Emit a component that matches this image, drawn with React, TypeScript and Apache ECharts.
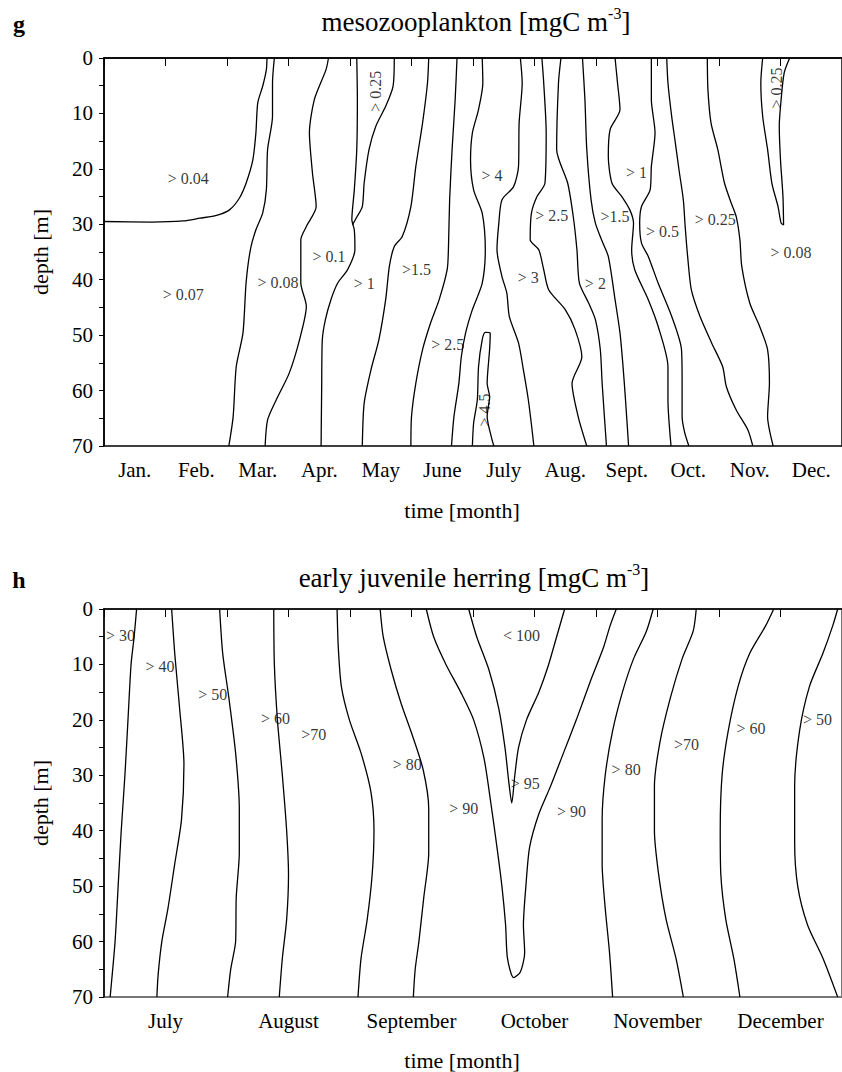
import React, { useEffect, useRef } from 'react';
import * as echarts from 'echarts';

// ---------- axis categories ----------
const topMonths = ['Jan.', 'Feb.', 'Mar.', 'Apr.', 'May', 'June', 'July', 'Aug.', 'Sept.', 'Oct.', 'Nov.', 'Dec.'];
const bottomMonthTicks = ['', 'July', '', 'August', '', 'September', '', 'October', '', 'November', '', 'December', ''];

// ---------- panel g: mesozooplankton contour lines [month, depth] ----------
const mesoA = [[0, 29.5], [0.77, 29.6], [1.29, 29.4], [1.56, 28.9], [1.83, 28.4], [2.04, 27.4], [2.2, 25.3], [2.31, 22.6], [2.42, 18.4], [2.47, 13.5], [2.5, 8.1], [2.58, 5.1], [2.64, 2.1], [2.65, 0]];
const mesoB = [[2.77, 0], [2.74, 4.5], [2.74, 10.5], [2.66, 16.5], [2.64, 23.8], [2.58, 28], [2.47, 31], [2.38, 34.6], [2.31, 40.6], [2.26, 49.6], [2.15, 55.7], [2.1, 64.7], [2.03, 70]];
const mesoC = [[3.65, 0], [3.61, 2.1], [3.42, 7.5], [3.34, 13.5], [3.39, 20.8], [3.45, 26.8], [3.29, 30.4], [3.2, 32.8], [3.2, 40.6], [3.29, 44.8], [3.18, 50.8], [3.01, 56.9], [2.8, 61.7], [2.66, 65.3], [2.62, 70]];
const mesoD1 = [[4.11, 0], [4.12, 7.5], [4.11, 16.5], [4.07, 23.8], [4.03, 29.2], [4.07, 31], [4.08, 34.6], [3.96, 38.2], [3.8, 40.6], [3.69, 43.6], [3.6, 47.2], [3.55, 50.8], [3.54, 58.7], [3.53, 70]];
const mesoD2 = [[4.72, 0], [4.7, 5.1], [4.58, 8.7], [4.42, 12.3], [4.31, 16.5], [4.23, 22.6], [4.2, 26.8], [4.1, 28.9], [4.04, 30.1]];
const mesoE = [[5.28, 0], [5.26, 4.5], [5.18, 11.7], [5.07, 19.6], [4.99, 26.8], [4.85, 32.2], [4.72, 34], [4.64, 37.6], [4.58, 43.6], [4.47, 50.8], [4.34, 56.3], [4.23, 62.3], [4.2, 70]];
const mesoF = [[5.74, 0], [5.71, 7.5], [5.66, 16.5], [5.62, 25.6], [5.6, 34.6], [5.58, 38.2], [5.45, 43.6], [5.31, 47.8], [5.18, 52.6], [5.07, 58.7], [5.0, 64.7], [4.99, 70]];
const mesoG = [[6.15, 0], [6.16, 4.5], [6.09, 9.3], [5.99, 13.5], [5.96, 18.4], [6.01, 23.8], [6.15, 28], [6.2, 34.6], [6.15, 40.6], [5.99, 45.4], [5.88, 49.6], [5.81, 53.9], [5.77, 58.7], [5.69, 64.7], [5.65, 70]];
const mesoH = [[5.99, 70], [6.01, 65.9], [6.07, 61.7], [6.09, 55.7], [6.15, 50.8], [6.2, 49.5], [6.28, 49.6], [6.27, 52.6], [6.23, 58.7], [6.27, 61.1], [6.23, 64.7], [6.31, 68.9], [6.34, 70]];
const mesoI = [[6.77, 0], [6.8, 4.5], [6.75, 11.7], [6.74, 19.6], [6.66, 23.2], [6.47, 25.6], [6.42, 29.8], [6.39, 34.6], [6.47, 39.4], [6.55, 42.4], [6.59, 46.6], [6.74, 51.4], [6.82, 56.3], [6.9, 61.7], [6.99, 70]];
const mesoJ = [[7.12, 0], [7.15, 4.5], [7.19, 13.5], [7.17, 22.6], [7.04, 25], [6.95, 28], [6.93, 32.8], [7.07, 34.6], [7.15, 38.2], [7.23, 41.8], [7.5, 45.4], [7.66, 49], [7.77, 53.9], [7.61, 58.7], [7.71, 64.7], [7.85, 70]];
const mesoK = [[7.43, 0], [7.39, 4.5], [7.36, 16.5], [7.54, 22.6], [7.63, 28.6], [7.69, 34.6], [7.73, 40.6], [7.88, 44.2], [7.99, 47.2], [8.07, 52.6], [8.1, 58.7], [8.17, 70]];
const mesoL = [[7.78, 0], [7.82, 7.5], [7.85, 16.5], [7.92, 25.6], [7.99, 29.8], [8.09, 32.8], [8.2, 35.8], [8.31, 43.6], [8.39, 49.6], [8.44, 55.7], [8.48, 61.7], [8.53, 70]];
const mesoM = [[8.31, 0], [8.35, 4.5], [8.39, 9.3], [8.23, 12.9], [8.2, 17.7], [8.26, 22.6], [8.42, 25], [8.55, 27.4], [8.61, 29.8], [8.58, 34.6], [8.63, 38.2], [8.85, 43.6], [9.01, 48.4], [9.17, 55.7], [9.17, 61.7], [9.22, 70]];
const mesoN = [[8.9, 0], [8.9, 7.5], [8.96, 13.5], [8.9, 19.6], [8.88, 23.8], [8.74, 26.8], [8.71, 29.8], [8.74, 33.4], [8.85, 35.8], [9.01, 40.6], [9.23, 46.6], [9.39, 52.6], [9.4, 58.7], [9.4, 64.7], [9.44, 67.5], [9.51, 70]];
const mesoO = [[9.15, 0], [9.17, 4.5], [9.23, 10.5], [9.29, 15.3], [9.35, 20.2], [9.42, 25.6], [9.45, 30.4], [9.49, 35.8], [9.55, 41.8], [9.69, 46.6], [9.88, 51.4], [10.06, 55.7], [10.12, 59.3], [10.28, 63.5], [10.47, 67.1], [10.55, 70]];
const mesoP = [[9.81, 0], [9.82, 5.7], [9.87, 11.7], [9.98, 16.5], [10.09, 22.6], [10.2, 26.2], [10.28, 28.6], [10.34, 32.8], [10.37, 37.6], [10.5, 44.2], [10.66, 48.4], [10.79, 52.6], [10.82, 58.7], [10.79, 64.7], [10.88, 70]];
const mesoQ = [[10.71, 0], [10.68, 4.5], [10.71, 10.5], [10.79, 16.5], [10.86, 22.6], [10.96, 26.8], [11.01, 29.8], [11.05, 30.1], [11.04, 25], [11.0, 18.4], [10.98, 12.3], [11.01, 7.5], [11.06, 2.7], [11.15, 0]];
const mesoLines = [mesoA, mesoB, mesoC, mesoD1, mesoD2, mesoE, mesoF, mesoG, mesoH, mesoI, mesoJ, mesoK, mesoL, mesoM, mesoN, mesoO, mesoP, mesoQ];

const mesoLabelText = ['> 0.04', '> 0.07', '> 0.08', '> 0.1', '> 1', '>1.5', '> 0.25', '> 2.5', '> 4', '> 4.5', '> 2.5', '> 3', '>1.5', '> 2', '> 1', '> 0.5', '> 0.25', '> 0.08', '> 0.25'];
const mesoLabelX = [1.37, 1.29, 2.83, 3.66, 4.23, 5.08, 4.42, 5.59, 6.31, 6.18, 7.28, 6.9, 8.31, 7.99, 8.66, 9.08, 9.94, 11.17, 10.93];
const mesoLabelY = [21.8, 42.6, 40.5, 35.8, 40.6, 38.1, 6.0, 51.7, 21.2, 63.5, 28.4, 39.6, 28.6, 40.6, 20.6, 31.3, 29.1, 35.1, 5.4];
const mesoLabelRot = [0, 0, 0, 0, 0, 0, 90, 0, 0, 90, 0, 0, 0, 0, 0, 0, 0, 0, 90];

// ---------- panel h: early juvenile herring contour lines [month index, depth] ----------
const herr1 = [[0.53, 0], [0.49, 5], [0.44, 10], [0.39, 20], [0.34, 30], [0.28, 40], [0.23, 50], [0.18, 60], [0.1, 70]];
const herr2 = [[1.1, 0], [1.15, 8], [1.23, 18], [1.3, 28], [1.26, 38], [1.15, 46], [1.04, 54], [0.94, 60], [0.88, 66], [0.86, 70]];
const herr3 = [[1.88, 0], [1.93, 8], [2.03, 16], [2.14, 26], [2.2, 36], [2.2, 44], [2.15, 52], [2.14, 60], [2.06, 65], [2.01, 70]];
const herr4 = [[2.76, 0], [2.77, 10], [2.82, 20], [2.9, 30], [2.97, 40], [3.0, 48], [2.97, 56], [2.9, 63], [2.85, 70]];
const herr5 = [[3.79, 0], [3.81, 7], [3.86, 14], [3.99, 20], [4.18, 26], [4.34, 33], [4.39, 40], [4.36, 48], [4.28, 56], [4.18, 63], [4.13, 70]];
const herr6 = [[4.49, 0], [4.54, 5], [4.67, 11], [4.83, 17], [5.02, 23], [5.19, 29], [5.28, 36], [5.28, 44], [5.2, 52], [5.12, 60], [5.06, 65], [5.03, 70]];
const herrLoop = [[5.24, 0], [5.36, 5], [5.56, 10], [5.8, 15], [6.01, 20], [6.18, 27], [6.29, 35], [6.39, 43], [6.47, 50], [6.53, 57], [6.56, 63], [6.66, 66.5], [6.77, 65.5], [6.84, 62], [6.82, 57], [6.86, 50], [6.92, 43], [7.07, 37], [7.26, 32], [7.47, 26], [7.68, 20], [7.91, 13], [8.12, 7], [8.23, 3], [8.33, 0]];
const herrV = [[5.93, 0], [6.06, 5], [6.26, 11], [6.42, 18], [6.52, 25], [6.58, 31], [6.63, 35], [6.68, 30], [6.74, 25], [6.87, 20], [7.07, 15], [7.23, 10], [7.36, 5], [7.49, 0]];
const herr11 = [[8.93, 0], [8.82, 4], [8.61, 9], [8.43, 15], [8.27, 22], [8.15, 30], [8.1, 38], [8.1, 46], [8.15, 54], [8.22, 62], [8.27, 70]];
const herr12 = [[9.63, 0], [9.58, 4], [9.4, 9], [9.21, 16], [9.04, 24], [8.95, 32], [8.95, 40], [9.02, 48], [9.14, 56], [9.3, 63], [9.42, 70]];
const herr13 = [[10.89, 0], [10.76, 3], [10.5, 8], [10.31, 14], [10.15, 22], [10.05, 30], [10.02, 40], [10.03, 48], [10.11, 56], [10.24, 63], [10.34, 70]];
const herr14 = [[11.93, 0], [11.85, 3], [11.69, 8], [11.47, 14], [11.31, 22], [11.23, 32], [11.23, 42], [11.28, 50], [11.44, 57], [11.69, 63], [11.93, 70]];
const herrLines = [herr1, herr2, herr3, herr4, herr5, herr6, herrLoop, herrV, herr11, herr12, herr13, herr14];

const herrLabelText = ['> 30', '> 40', '> 50', '> 60', '>70', '> 80', '> 90', '< 100', '> 95', '> 90', '> 80', '>70', '> 60', '> 50'];
const herrLabelX = [0.27, 0.91, 1.77, 2.79, 3.41, 4.93, 5.85, 6.79, 6.85, 7.6, 8.49, 9.47, 10.52, 11.6];
const herrLabelY = [4.7, 10.3, 15.5, 19.8, 22.7, 28.1, 36, 4.7, 31.4, 36.6, 28.9, 24.4, 21.5, 20];

const FONT = "'Liberation Serif', 'Times New Roman', serif";

function lineSeries(lines: number[][][], xIdx: number, yIdx: number) {
  return lines.map((d) => ({
    type: 'line',
    xAxisIndex: xIdx,
    yAxisIndex: yIdx,
    data: d,
    symbol: 'none',
    smooth: 0.25,
    silent: true,
    lineStyle: { color: '#000', width: 1.3 },
    z: 3,
  }));
}

function labelSeries(texts: string[], xs: number[], ys: number[], rots: number[] | null, xIdx: number, yIdx: number) {
  return {
    type: 'scatter',
    xAxisIndex: xIdx,
    yAxisIndex: yIdx,
    symbolSize: 1,
    silent: true,
    itemStyle: { color: 'rgba(0,0,0,0)' },
    z: 5,
    data: texts.map((t, i) => ({
      value: [xs[i], ys[i]],
      label: {
        show: true,
        position: 'inside',
        formatter: t,
        rotate: rots ? rots[i] : 0,
        color: '#000',
        textBorderWidth: 0,
        fontSize: 16,
        fontFamily: FONT,
      },
    })),
  };
}

const axisLineStyle = { color: '#000', width: 1.5 };

function yAxisDef(gridIndex: number) {
  return {
    gridIndex,
    type: 'value',
    inverse: true,
    min: 0,
    max: 70,
    interval: 5,
    axisLine: { show: true, lineStyle: axisLineStyle },
    axisTick: { show: true, length: 5, lineStyle: { color: '#000', width: 1 } },
    axisLabel: {
      color: '#000',
      fontSize: 21,
      fontFamily: FONT,
      margin: 11,
      formatter: (v: number) => (v % 10 === 0 ? String(v) : ''),
    },
    splitLine: { show: false },
  };
}

function titleText(x: number, y: number, main: string) {
  return {
    type: 'text',
    x,
    y,
    style: {
      text: main + ' [mgC m{sup|-3}]',
      fill: '#000',
      fontSize: 27,
      fontFamily: FONT,
      lineHeight: 34,
      align: 'center',
      verticalAlign: 'middle',
      rich: {
        sup: { fontSize: 16, fontFamily: FONT, lineHeight: 18, verticalAlign: 'top', fill: '#000' },
      },
    },
  };
}

function plainText(x: number, y: number, text: string, size: number, bold = false, rotation = 0) {
  return {
    type: 'text',
    x,
    y,
    rotation,
    style: {
      text,
      fill: '#000',
      fontSize: size,
      fontWeight: bold ? 'bold' : 'normal',
      fontFamily: FONT,
      align: 'center',
      verticalAlign: 'middle',
    },
  };
}

export default function App() {
  const ref = useRef<HTMLDivElement>(null);

  useEffect(() => {
    if (!ref.current) return;
    const chart = echarts.init(ref.current, undefined, { renderer: 'svg' });
    const option = {
      animation: false,
      backgroundColor: '#fff',
      grid: [
        { left: 104, top: 58, width: 740, height: 388, show: true, borderColor: '#000', borderWidth: 1.5, backgroundColor: 'transparent' },
        { left: 104, top: 609, width: 740, height: 388, show: true, borderColor: '#777', borderWidth: 2, backgroundColor: 'transparent' },
      ],
      xAxis: [
        {
          gridIndex: 0,
          type: 'category',
          data: topMonths,
          boundaryGap: true,
          position: 'bottom',
          axisLine: { show: true, lineStyle: axisLineStyle },
          axisTick: { show: true, length: 8, lineStyle: { color: '#000', width: 1 } },
          axisLabel: { interval: 0, color: '#000', fontSize: 21, fontFamily: FONT, margin: 13 },
          splitLine: { show: false },
        },
        { gridIndex: 0, type: 'value', min: 0, max: 12, show: false },
        {
          gridIndex: 1,
          type: 'value',
          min: 0,
          max: 12,
          interval: 1,
          position: 'bottom',
          axisLine: { show: true, lineStyle: axisLineStyle },
          axisTick: { show: true, length: 8, lineStyle: { color: '#000', width: 1 } },
          axisLabel: {
            color: '#000',
            fontSize: 21,
            fontFamily: FONT,
            margin: 13,
            showMaxLabel: false,
            formatter: (v: number) => bottomMonthTicks[Math.round(v)] || '',
          },
          splitLine: { show: false },
        },
      ],
      yAxis: [yAxisDef(0), yAxisDef(1)],
      graphic: [
        plainText(19, 24, 'g', 24, true),
        titleText(476, 22, 'mesozooplankton'),
        plainText(462, 510, 'time [month]', 22),
        plainText(40, 252, 'depth [m]', 22, false, Math.PI / 2),
        plainText(19, 580, 'h', 24, true),
        titleText(474, 578, 'early juvenile herring'),
        plainText(462, 1060, 'time [month]', 22),
        plainText(40, 803, 'depth [m]', 22, false, Math.PI / 2),
      ],
      series: [
        ...lineSeries(mesoLines, 1, 0),
        labelSeries(mesoLabelText, mesoLabelX, mesoLabelY, mesoLabelRot, 1, 0),
        ...lineSeries(herrLines, 2, 1),
        labelSeries(herrLabelText, herrLabelX, herrLabelY, null, 2, 1),
      ],
    };
    chart.setOption(option as any);
    return () => chart.dispose();
  }, []);

  return (
    <div
      ref={ref}
      style={{ position: 'absolute', left: 0, top: 0, width: 842, height: 1072, overflow: 'hidden', background: '#fff' }}
    />
  );
}
